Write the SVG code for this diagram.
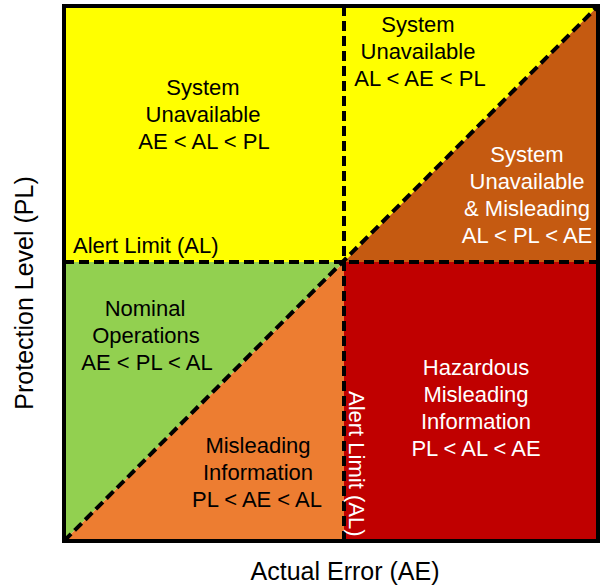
<svg xmlns="http://www.w3.org/2000/svg" width="600" height="586" viewBox="0 0 600 586">
<style>
.t{font-family:"Liberation Sans",Arial,sans-serif;font-size:22px;text-anchor:middle}
.b{fill:#000}
.w{fill:#fff}
.ax{font-family:"Liberation Sans",Arial,sans-serif;font-size:25px;text-anchor:middle;fill:#000}
.d{stroke:#000;stroke-width:4;stroke-dasharray:10 5;fill:none}
</style>
<rect x="0" y="0" width="600" height="586" fill="#fff"/>
<g id="region-top-left">
<rect x="64" y="6" width="280" height="256" fill="#FFFF00"/>
<text class="t b" x="203" y="95">System</text>
<text class="t b" x="203" y="122">Unavailable</text>
<text class="t b" x="204" y="149">AE &lt; AL &lt; PL</text>
</g>
<g id="region-top-right-upper">
<polygon points="344,262 344,6 598,6" fill="#FFFF00"/>
<text class="t b" x="418" y="32">System</text>
<text class="t b" x="418" y="59">Unavailable</text>
<text class="t b" x="420" y="86">AL &lt; AE &lt; PL</text>
</g>
<g id="region-top-right-lower">
<polygon points="344,262 598,6 598,262" fill="#C55A11"/>
<text class="t w" x="527" y="162">System</text>
<text class="t w" x="527" y="189">Unavailable</text>
<text class="t w" x="527" y="216">&amp; Misleading</text>
<text class="t w" x="527" y="243">AL &lt; PL &lt; AE</text>
</g>
<g id="region-bottom-left-upper">
<polygon points="64,262 344,262 64,541" fill="#92D050"/>
<text class="t b" x="145" y="316">Nominal</text>
<text class="t b" x="146" y="343">Operations</text>
<text class="t b" x="147" y="370">AE &lt; PL &lt; AL</text>
</g>
<g id="region-bottom-left-lower">
<polygon points="64,541 344,262 344,541" fill="#ED7D31"/>
<text class="t b" x="258" y="453">Misleading</text>
<text class="t b" x="258" y="480">Information</text>
<text class="t b" x="257" y="507">PL &lt; AE &lt; AL</text>
</g>
<g id="region-bottom-right">
<rect x="344" y="262" width="254" height="279" fill="#C00000"/>
<text class="t w" x="476" y="375">Hazardous</text>
<text class="t w" x="476" y="402">Misleading</text>
<text class="t w" x="476" y="429">Information</text>
<text class="t w" x="476" y="456">PL &lt; AL &lt; AE</text>
</g>
<g id="connectors">
<line class="d" x1="64" y1="262" x2="598" y2="262"/>
<line class="d" x1="344" y1="6" x2="344" y2="541"/>
<line class="d" x1="64" y1="541" x2="598" y2="6"/>
</g>
<g id="alert-limit-labels">
<text x="73" y="253" font-family="Liberation Sans, Arial, sans-serif" font-size="22" fill="#000">Alert Limit (AL)</text>
<text transform="translate(349,391) rotate(90)" font-family="Liberation Sans, Arial, sans-serif" font-size="22" fill="#fff">Alert Limit (AL)</text>
</g>
<g id="frame">
<rect x="64" y="6" width="534" height="535" fill="none" stroke="#000" stroke-width="4"/>
</g>
<g id="axes-labels">
<text class="ax" x="345" y="580">Actual Error (AE)</text>
<text class="ax" transform="translate(33,293) rotate(-90)">Protection Level (PL)</text>
</g>
</svg>
